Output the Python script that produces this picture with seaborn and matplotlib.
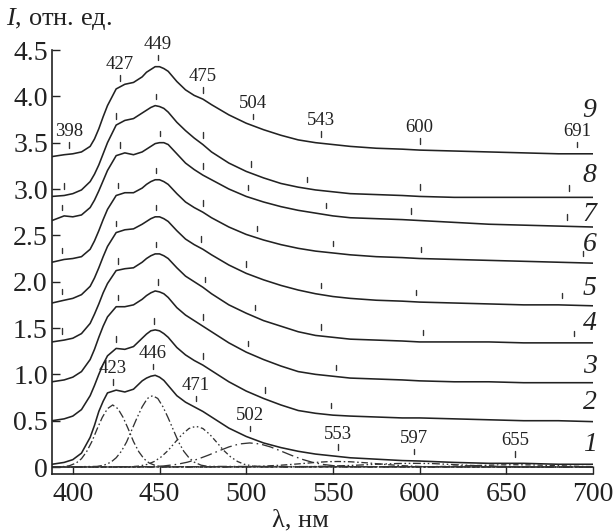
import numpy as np
import pandas as pd
import seaborn as sns
import matplotlib.pyplot as plt

# wavelength grid (nm) for the measured spectra
wl = [388, 395, 400, 405, 410, 412.5, 415, 417.5, 420, 425, 430, 435, 440, 442.5, 445, 447.5,
      450, 452.5, 455, 460, 465, 470, 475, 480, 490, 500, 510, 520, 530, 540, 550, 560, 575,
      590, 600, 620, 640, 660, 680, 700]

# spectra 1..9 (already shifted vertically as in the figure)
curve_1 = [0.03, 0.05, 0.08, 0.15, 0.32, 0.45, 0.60, 0.71, 0.80, 0.83, 0.81, 0.84, 0.93, 0.96, 0.98, 0.99,
           0.97, 0.935, 0.88, 0.77, 0.70, 0.65, 0.60, 0.54, 0.42, 0.33, 0.26, 0.21, 0.17, 0.14, 0.12, 0.10,
           0.085, 0.07, 0.065, 0.05, 0.04, 0.04, 0.03, 0.03]
curve_2 = [0.50, 0.52, 0.55, 0.62, 0.77, 0.88, 1.00, 1.11, 1.20, 1.28, 1.27, 1.30, 1.39, 1.435, 1.47, 1.48,
           1.47, 1.44, 1.40, 1.29, 1.21, 1.15, 1.10, 1.04, 0.92, 0.82, 0.74, 0.67, 0.61, 0.58, 0.56, 0.55,
           0.54, 0.53, 0.53, 0.52, 0.51, 0.50, 0.50, 0.49]
curve_3 = [0.92, 0.94, 0.97, 1.03, 1.16, 1.27, 1.40, 1.52, 1.62, 1.73, 1.73, 1.75, 1.81, 1.85, 1.88, 1.90,
           1.89, 1.87, 1.83, 1.72, 1.64, 1.58, 1.52, 1.46, 1.34, 1.24, 1.16, 1.09, 1.03, 1.00, 0.98, 0.96,
           0.95, 0.94, 0.93, 0.92, 0.92, 0.91, 0.91, 0.91]
curve_4 = [1.35, 1.37, 1.39, 1.44, 1.55, 1.65, 1.76, 1.88, 1.98, 2.12, 2.14, 2.15, 2.21, 2.25, 2.28, 2.30,
           2.30, 2.28, 2.25, 2.15, 2.06, 2.00, 1.94, 1.87, 1.75, 1.66, 1.58, 1.52, 1.46, 1.42, 1.40, 1.38,
           1.37, 1.36, 1.35, 1.35, 1.35, 1.34, 1.34, 1.34]
curve_5 = [1.77, 1.80, 1.82, 1.86, 1.95, 2.04, 2.15, 2.27, 2.38, 2.53, 2.56, 2.57, 2.62, 2.65, 2.68, 2.70,
           2.70, 2.68, 2.65, 2.55, 2.46, 2.40, 2.35, 2.29, 2.18, 2.09, 2.02, 1.96, 1.91, 1.87, 1.84, 1.82,
           1.80, 1.79, 1.78, 1.77, 1.76, 1.75, 1.75, 1.74]
curve_6 = [2.21, 2.24, 2.25, 2.27, 2.35, 2.44, 2.55, 2.67, 2.78, 2.93, 2.96, 2.96, 3.01, 3.05, 3.08, 3.10,
           3.10, 3.08, 3.05, 2.95, 2.86, 2.80, 2.75, 2.69, 2.59, 2.51, 2.45, 2.40, 2.36, 2.33, 2.31, 2.29,
           2.27, 2.26, 2.25, 2.24, 2.23, 2.22, 2.21, 2.20]
curve_7 = [2.66, 2.71, 2.70, 2.72, 2.80, 2.88, 2.98, 3.09, 3.20, 3.36, 3.39, 3.37, 3.40, 3.43, 3.46, 3.49,
           3.50, 3.50, 3.48, 3.38, 3.28, 3.21, 3.15, 3.10, 3.00, 2.92, 2.86, 2.81, 2.77, 2.74, 2.71, 2.69,
           2.68, 2.67, 2.66, 2.64, 2.62, 2.61, 2.60, 2.59]
curve_8 = [2.92, 2.93, 2.95, 2.99, 3.08, 3.16, 3.26, 3.38, 3.50, 3.69, 3.74, 3.76, 3.82, 3.85, 3.88, 3.90,
           3.89, 3.87, 3.83, 3.72, 3.63, 3.55, 3.48, 3.40, 3.28, 3.19, 3.12, 3.06, 3.02, 2.99, 2.97, 2.95,
           2.94, 2.93, 2.92, 2.91, 2.91, 2.91, 2.91, 2.91]
curve_9 = [3.35, 3.37, 3.38, 3.40, 3.46, 3.54, 3.65, 3.78, 3.90, 4.08, 4.13, 4.15, 4.21, 4.26, 4.29, 4.32,
           4.32, 4.30, 4.27, 4.16, 4.07, 4.01, 3.97, 3.91, 3.80, 3.71, 3.64, 3.58, 3.53, 3.50, 3.48, 3.46,
           3.44, 3.43, 3.42, 3.41, 3.40, 3.39, 3.38, 3.38]
curves = [curve_1, curve_2, curve_3, curve_4, curve_5, curve_6, curve_7, curve_8, curve_9]
curve_names = ['1', '2', '3', '4', '5', '6', '7', '8', '9']

# decomposition of spectrum 1 (bands)
band_423_wl = [388, 394, 398, 402, 405, 408, 411, 414, 417, 420, 423, 426, 429, 432, 435, 438, 441, 444, 448, 452, 700]
band_423 = [0, 0.004, 0.014, 0.044, 0.09, 0.167, 0.275, 0.41, 0.536, 0.63, 0.67, 0.63, 0.536, 0.41, 0.275, 0.167, 0.09, 0.044, 0.014, 0.004, 0]
band_446_wl = [388, 414, 418, 422, 425, 428, 431, 434, 437, 440, 443, 446, 449, 452, 455, 458, 461, 464, 467, 470, 474, 478, 700]
band_446 = [0, 0.007, 0.02, 0.053, 0.10, 0.17, 0.27, 0.40, 0.53, 0.65, 0.74, 0.77, 0.74, 0.65, 0.53, 0.40, 0.27, 0.17, 0.10, 0.053, 0.02, 0.007, 0]
band_471_wl = [388, 433, 438, 443, 447, 451, 455, 459, 463, 467, 471, 475, 479, 483, 487, 491, 495, 499, 504, 509, 700]
band_471 = [0, 0.003, 0.01, 0.029, 0.06, 0.11, 0.18, 0.267, 0.352, 0.416, 0.44, 0.416, 0.352, 0.267, 0.18, 0.11, 0.06, 0.029, 0.01, 0.003, 0]
band_502_wl = [388, 444, 452, 460, 466, 472, 478, 484, 490, 496, 502, 508, 514, 520, 526, 532, 538, 544, 552, 560, 700]
band_502 = [0, 0.004, 0.011, 0.029, 0.052, 0.085, 0.127, 0.173, 0.217, 0.249, 0.26, 0.249, 0.217, 0.173, 0.127, 0.085, 0.052, 0.029, 0.011, 0.004, 0]
band_553_wl = [388, 500, 510, 520, 530, 540, 547, 553, 560, 570, 580, 590, 600, 610, 700]
band_553 = [0, 0.003, 0.01, 0.02, 0.034, 0.05, 0.058, 0.06, 0.057, 0.045, 0.028, 0.015, 0.006, 0.002, 0]
band_597_wl = [388, 530, 545, 560, 575, 587, 597, 607, 620, 635, 650, 665, 700]
band_597 = [0, 0.002, 0.008, 0.017, 0.03, 0.038, 0.04, 0.038, 0.026, 0.013, 0.005, 0.001, 0]
band_655_wl = [388, 600, 615, 630, 645, 655, 665, 680, 695, 700]
band_655 = [0, 0.002, 0.007, 0.015, 0.023, 0.025, 0.023, 0.015, 0.006, 0.005]
bands = [(band_423_wl, band_423, (0, (6, 2, 1.2, 2))),
         (band_446_wl, band_446, (0, (7, 2, 1.2, 2, 1.2, 2))),
         (band_471_wl, band_471, (0, (4, 2, 1.2, 2, 1.2, 2))),
         (band_502_wl, band_502, (0, (9, 3, 1.2, 3))),
         (band_553_wl, band_553, (0, (5, 2, 1.2, 2))),
         (band_597_wl, band_597, (0, (6, 2, 1.2, 2, 1.2, 2))),
         (band_655_wl, band_655, (0, (4, 2, 1.2, 2)))]

# peak marks on every spectrum (nm); spectra 1 and 9 are labelled
marks = [
    [423, 446, 471, 502, 553, 597, 655],
    [425, 447, 475, 511, 549],
    [426, 449, 475, 501, 552],
    [394, 426, 448, 476, 505, 543, 602, 689],
    [394, 425, 448, 474, 500, 543, 598, 682],
    [394, 426, 448, 475, 506, 550, 601, 694],
    [394, 427, 450, 475, 501, 546, 595, 685],
    [395, 425, 448, 475, 503, 535, 600, 686],
    [398, 427, 449, 475, 504, 543, 600, 691],
]
label_y = [0.24, 0.70, 1.08, 1.55, 1.93, 2.40, 2.72, 3.15, 3.85]

sns.set_style('ticks')
plt.rcParams['font.family'] = ['Liberation Serif', 'DejaVu Serif']
plt.rcParams['mathtext.fontset'] = 'custom'
plt.rcParams['mathtext.it'] = 'Liberation Serif:italic'
plt.rcParams['mathtext.rm'] = 'Liberation Serif'

fig = plt.figure(figsize=(6.16, 5.31), dpi=100)
ax = fig.add_axes([52 / 616, 1 - 474 / 531, (593 - 52) / 616, (474 - 50) / 531])

df = pd.DataFrame({
    'wl': wl * len(curves),
    'I': np.concatenate(curves),
    'curve': np.repeat(curve_names, len(wl)),
})
sns.lineplot(data=df, x='wl', y='I', units='curve', estimator=None, sort=False,
             color='#222222', lw=1.15, ax=ax)

for bx, by, ls in bands:
    sns.lineplot(x=bx, y=by, color='#333333', lw=0.95, linestyle=ls, sort=False, ax=ax)

for i, (cv, mk) in enumerate(zip(curves, marks)):
    for m in mk:
        v = np.interp(m, wl, cv)
        ax.plot([m, m], [v + 0.07, v + 0.13], color='#333333', lw=1.0, clip_on=False)
        if i in (0, 8):
            ax.text(m, v + 0.15, str(m), ha='center', va='bottom', fontsize=13.5,
                    color='#222222', clip_on=False)
    ax.text(698, label_y[i], curve_names[i], ha='center', va='center', fontsize=20,
            style='italic', color='#222222', clip_on=False)

ax.set_xlim(388, 700)
ax.set_ylim(-0.075, 4.5)
ax.set_xticks([400, 450, 500, 550, 600, 650, 700])
ax.set_yticks([0, 0.5, 1.0, 1.5, 2.0, 2.5, 3.0, 3.5, 4.0, 4.5])
ax.set_yticklabels(['0', '0.5', '1.0', '1.5', '2.0', '2.5', '3.0', '3.5', '4.0', '4.5'])
ax.tick_params(direction='in', length=6, width=1.0, labelsize=20, colors='#222222')
ax.tick_params(axis='x', pad=6)
ax.tick_params(axis='y', pad=3)
sns.despine(ax=ax)
for s in ['left', 'bottom']:
    ax.spines[s].set_linewidth(1.2)
    ax.spines[s].set_color('#222222')
ax.set_xlabel('')
ax.set_ylabel('')

fig.text(6 / 616, 1 - 25 / 531, '$I$, отн. ед.', fontsize=19, color='#222222', va='baseline')
fig.text(300 / 616, 1 - 520 / 531, 'λ, нм', fontsize=19, color='#222222', ha='center', va='center')

fig.savefig('out.png', dpi=100)
